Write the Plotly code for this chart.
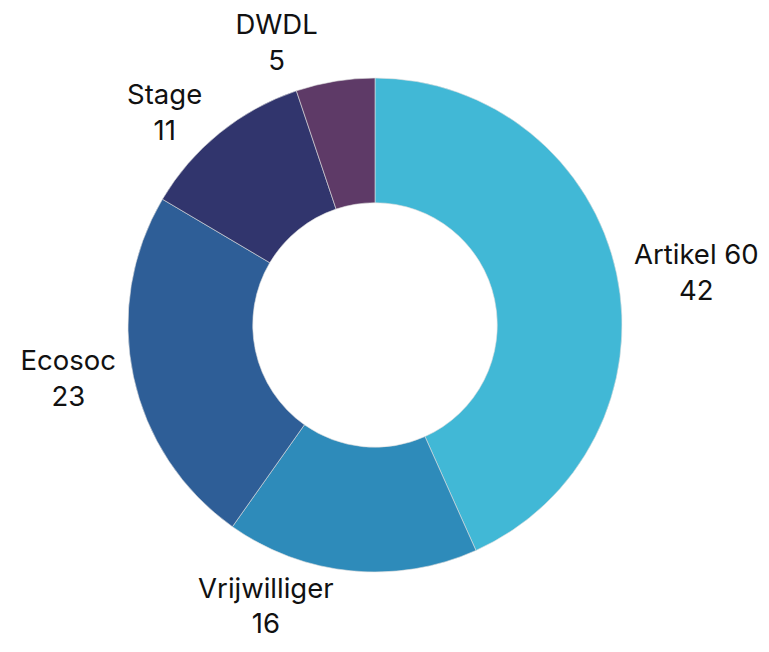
import plotly.graph_objects as go

labels = ["Artikel 60", "Vrijwilliger", "Ecosoc", "Stage", "DWDL"]
values = [42, 16, 23, 11, 5]
colors = ["#41B8D6", "#2E8BBA", "#2E5E97", "#31356D", "#5E3A67"]

fig = go.Figure(go.Pie(
    labels=labels,
    values=values,
    hole=0.495,
    sort=False,
    direction="clockwise",
    rotation=0,
    automargin=False,
    marker=dict(colors=colors, line=dict(color="#dddddd", width=0.6)),
    texttemplate="<span style='color:#111111;fill-opacity:1'>%{label}<br>%{value}</span>",
    textposition="outside",
    # transparent base colour hides the leader line; the text colour is set in the span
    textfont=dict(family="Inter", size=27.5, color="rgba(17,17,17,0)"),
    showlegend=False,
))

fig.update_layout(
    width=769, height=652,
    margin=dict(l=120, r=155, t=70, b=88, autoexpand=False),
    paper_bgcolor="white",
    plot_bgcolor="white",
)

fig.write_html("out.html")
